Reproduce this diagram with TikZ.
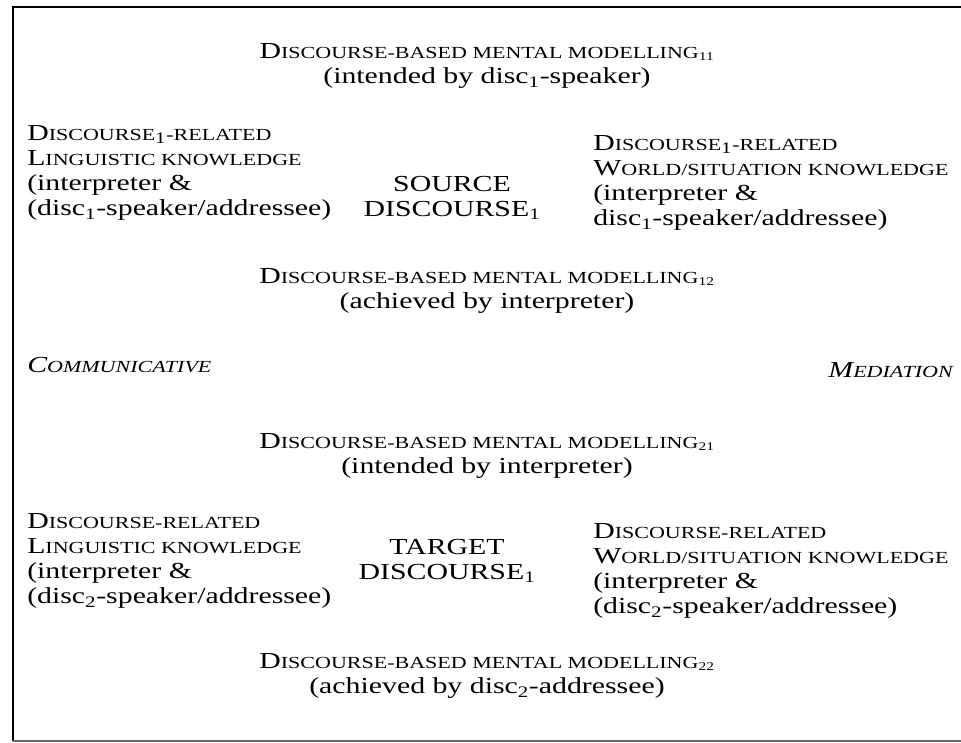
\documentclass[tikz,border=0pt]{standalone}
\usepackage{fontspec}
\setmainfont{Liberation Serif}[FakeStretch=1.3]
\usetikzlibrary{positioning}
\newcommand\smc[1]{{\fontsize{12.7}{18.75}\selectfont\MakeUppercase{#1}}}
\tikzset{
	block/.style={inner sep=0pt, font=\fontsize{17.2}{18.9}\selectfont, align=left},
	midblock/.style={block, align=center},
	frame/.style={line width=2pt}
}

\begin{document}
\begin{tikzpicture}[x=0.75pt,y=-0.75pt]
	\useasboundingbox (0,0) rectangle (961,743);
	% Frame
	\draw [frame] (961,7) -- (13,7) -- (13,741);
	\draw [line width=1pt, black!60] (13,741) -- (961,741);

	% Source side
	\node (M11) [midblock] at (487,66) {D\smc{iscourse-based mental modelling\textsubscript{11}}\\ (intended by disc\textsubscript{1}-speaker)};
	\node (L1) [block, anchor=west] at (27,173) {D\smc{iscourse}\textsubscript{1}\smc{-related}\\ L\smc{inguistic knowledge}\\ (interpreter \&\\ (disc\textsubscript{1}-speaker/addressee)};
	\node (S1) [midblock] at (452,198) {SOURCE\\ DISCOURSE\textsubscript{1}};
	\node (W1) [block, anchor=west] at (593,183) {D\smc{iscourse}\textsubscript{1}\smc{-related}\\ W\smc{orld/situation knowledge}\\ (interpreter \&\\ disc\textsubscript{1}-speaker/addressee)};
	\node (M12) [midblock] at (487,291) {D\smc{iscourse-based mental modelling\textsubscript{12}}\\ (achieved by interpreter)};

	% Mediation
	\node (C) [block, anchor=west] at (27,365) {\itshape C\smc{ommunicative}};
	\node (Med) [block, anchor=east] at (953,370) {\itshape M\smc{ediation}};

	% Target side
	\node (M21) [midblock] at (487,456) {D\smc{iscourse-based mental modelling\textsubscript{21}}\\ (intended by interpreter)};
	\node (L2) [block, anchor=west] at (27,561) {D\smc{iscourse-related}\\ L\smc{inguistic knowledge}\\ (interpreter \&\\ (disc\textsubscript{2}-speaker/addressee)};
	\node (T1) [midblock] at (447,561) {TARGET\\ DISCOURSE\textsubscript{1}};
	\node (W2) [block, anchor=west] at (593,571) {D\smc{iscourse-related}\\ W\smc{orld/situation knowledge}\\ (interpreter \&\\ (disc\textsubscript{2}-speaker/addressee)};
	\node (M22) [midblock] at (487,676) {D\smc{iscourse-based mental modelling\textsubscript{22}}\\ (achieved by disc\textsubscript{2}-addressee)};
\end{tikzpicture}
\end{document}
